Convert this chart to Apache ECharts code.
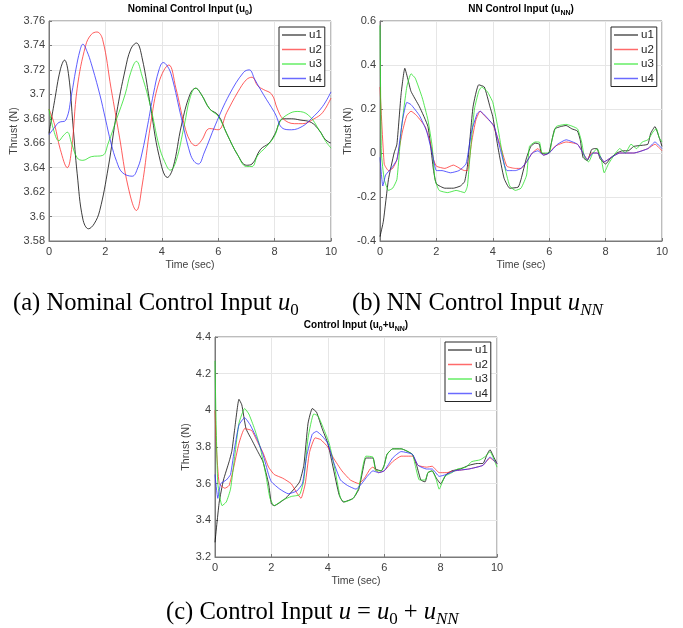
<!DOCTYPE html>
<html><head><meta charset="utf-8">
<script src="https://cdn.jsdelivr.net/npm/echarts@6/dist/echarts.min.js"></script>
<style>html,body{margin:0;padding:0;background:#fff}#c{width:683px;height:628px}</style>
</head><body><div id="c"></div>
<script>
// ---------- DATA (time sec, thrust N) ----------
const seriesNames = ['u1','u2','u3','u4'];
const xTicks = [0,2,4,6,8,10];

// (a) Nominal control input u0
const a_u1 = [[0,3.668],[0.2,3.695],[0.4,3.72],[0.55,3.728],[0.7,3.715],[0.85,3.675],[1.0,3.635],[1.2,3.598],[1.4,3.59],[1.6,3.594],[1.8,3.605],[2.1,3.64],[2.4,3.685],[2.7,3.72],[2.9,3.737],[3.1,3.742],[3.3,3.73],[3.6,3.69],[3.9,3.65],[4.2,3.632],[4.4,3.64],[4.7,3.675],[5.0,3.7],[5.2,3.705],[5.4,3.7],[5.7,3.688],[6.0,3.683],[6.3,3.668],[6.7,3.65],[7.0,3.642],[7.2,3.643],[7.5,3.655],[7.8,3.66],[8.0,3.667],[8.3,3.68],[8.6,3.68],[8.9,3.679],[9.3,3.677],[9.6,3.67],[9.8,3.663],[10,3.66]];
const a_u2 = [[0,3.688],[0.2,3.675],[0.4,3.655],[0.65,3.64],[0.8,3.655],[1.0,3.705],[1.3,3.74],[1.5,3.749],[1.7,3.751],[1.9,3.745],[2.2,3.705],[2.5,3.665],[2.8,3.625],[3.1,3.605],[3.3,3.625],[3.6,3.675],[3.9,3.71],[4.25,3.724],[4.5,3.705],[4.8,3.675],[5.0,3.662],[5.2,3.658],[5.4,3.662],[5.7,3.672],[6.0,3.671],[6.3,3.685],[6.7,3.702],[7.0,3.712],[7.2,3.714],[7.4,3.707],[7.6,3.704],[7.9,3.7],[8.1,3.688],[8.3,3.68],[8.7,3.676],[9.0,3.676],[9.4,3.68],[9.7,3.685],[10,3.697]];
const a_u3 = [[0,3.688],[0.15,3.672],[0.35,3.662],[0.5,3.666],[0.65,3.669],[0.8,3.66],[1.0,3.648],[1.2,3.646],[1.5,3.649],[1.9,3.65],[2.1,3.66],[2.4,3.68],[2.7,3.7],[2.9,3.718],[3.1,3.727],[3.3,3.715],[3.6,3.69],[3.9,3.658],[4.1,3.645],[4.3,3.638],[4.5,3.645],[4.8,3.675],[5.0,3.697],[5.2,3.705],[5.4,3.7],[5.7,3.688],[6.0,3.682],[6.3,3.668],[6.7,3.65],[7.0,3.641],[7.2,3.641],[7.4,3.65],[7.7,3.657],[8.0,3.666],[8.2,3.678],[8.5,3.684],[8.8,3.686],[9.2,3.683],[9.6,3.67],[9.8,3.662],[10,3.656]];
const a_u4 = [[0,3.667],[0.2,3.673],[0.35,3.677],[0.6,3.679],[0.8,3.7],[0.95,3.72],[1.1,3.736],[1.2,3.741],[1.35,3.735],[1.5,3.725],[1.8,3.7],[2.0,3.68],[2.2,3.66],[2.4,3.645],[2.6,3.636],[2.95,3.633],[3.15,3.64],[3.3,3.652],[3.5,3.675],[3.7,3.7],[3.9,3.72],[4.05,3.726],[4.2,3.723],[4.35,3.715],[4.7,3.68],[5.0,3.652],[5.15,3.645],[5.3,3.643],[5.5,3.652],[5.9,3.675],[6.4,3.7],[6.9,3.718],[7.1,3.72],[7.3,3.712],[7.6,3.7],[8.0,3.685],[8.3,3.672],[8.6,3.671],[9.0,3.674],[9.3,3.68],[9.7,3.69],[10,3.702]];

// (b) NN control input uNN
const b_u1 = [[0,-0.38],[0.12,-0.31],[0.3,-0.12],[0.5,0.0],[0.6,0.04],[0.75,0.27],[0.88,0.385],[1.0,0.33],[1.1,0.28],[1.4,0.21],[1.7,0.12],[1.9,-0.08],[2.0,-0.14],[2.3,-0.16],[2.6,-0.16],[2.85,-0.15],[3.0,-0.13],[3.1,-0.06],[3.3,0.21],[3.5,0.31],[3.7,0.3],[3.9,0.21],[4.0,0.165],[4.2,0.013],[4.4,-0.115],[4.6,-0.16],[4.9,-0.155],[5.0,-0.12],[5.2,-0.02],[5.35,0.03],[5.5,0.045],[5.65,0.04],[5.72,0.0],[5.9,-0.005],[6.0,0.005],[6.1,0.06],[6.2,0.11],[6.4,0.12],[6.6,0.125],[6.8,0.11],[7.0,0.1],[7.1,0.06],[7.2,-0.02],[7.35,-0.035],[7.5,0.015],[7.6,0.02],[7.7,0.02],[7.8,-0.025],[8.0,-0.05],[8.2,-0.02],[8.4,0.0],[8.6,0.01],[8.8,0.01],[9.0,0.03],[9.3,0.035],[9.5,0.04],[9.6,0.09],[9.75,0.12],[9.9,0.07],[10,0.03]];
const b_u2 = [[0,0.3],[0.15,-0.05],[0.3,-0.08],[0.45,-0.07],[0.6,-0.03],[0.8,0.1],[0.95,0.17],[1.1,0.19],[1.3,0.17],[1.6,0.12],[1.8,0.04],[1.9,-0.03],[2.0,-0.06],[2.3,-0.07],[2.6,-0.055],[3.0,-0.08],[3.1,-0.08],[3.25,0.05],[3.4,0.15],[3.55,0.19],[3.7,0.17],[4.0,0.13],[4.3,0.02],[4.5,-0.06],[4.8,-0.07],[5.0,-0.07],[5.2,-0.04],[5.4,0.0],[5.6,0.02],[5.8,-0.01],[6.0,0.0],[6.2,0.03],[6.6,0.05],[7.0,0.04],[7.2,0.0],[7.35,-0.03],[7.5,0.0],[7.7,0.0],[7.95,-0.04],[8.2,-0.02],[8.5,0.0],[9.0,0.0],[9.5,0.02],[9.75,0.04],[10,0.01]];
const b_u3 = [[0,0.58],[0.05,0.0],[0.15,-0.12],[0.3,-0.17],[0.45,-0.16],[0.6,-0.12],[0.75,0.1],[0.95,0.3],[1.1,0.36],[1.25,0.34],[1.5,0.25],[1.7,0.15],[1.85,0.03],[1.95,-0.12],[2.1,-0.17],[2.4,-0.18],[2.7,-0.17],[3.0,-0.18],[3.1,-0.15],[3.2,0.0],[3.35,0.2],[3.5,0.28],[3.6,0.3],[3.8,0.28],[4.0,0.23],[4.2,0.1],[4.4,-0.05],[4.6,-0.15],[4.8,-0.17],[5.0,-0.16],[5.2,-0.1],[5.3,0.03],[5.5,0.05],[5.65,0.05],[5.75,0.0],[6.0,0.0],[6.1,0.06],[6.25,0.12],[6.6,0.13],[7.0,0.11],[7.15,0.05],[7.25,-0.02],[7.4,-0.04],[7.55,0.0],[7.7,0.02],[7.85,-0.03],[7.95,-0.09],[8.1,-0.05],[8.3,-0.01],[8.5,0.02],[8.7,0.0],[8.9,0.04],[9.1,0.02],[9.3,0.05],[9.5,0.06],[9.7,0.1],[9.8,0.11],[9.9,0.07],[10,0.05]];
const b_u4 = [[0,-0.02],[0.1,-0.15],[0.2,-0.1],[0.4,-0.07],[0.6,-0.03],[0.8,0.15],[0.95,0.23],[1.1,0.22],[1.4,0.17],[1.65,0.1],[1.85,0.0],[2.0,-0.08],[2.2,-0.08],[2.5,-0.09],[2.8,-0.08],[3.05,-0.05],[3.25,0.1],[3.45,0.18],[3.55,0.19],[3.8,0.16],[4.05,0.12],[4.3,0.0],[4.5,-0.08],[4.8,-0.08],[5.0,-0.07],[5.2,-0.04],[5.4,0.0],[5.6,0.01],[5.8,-0.01],[6.0,0.0],[6.3,0.04],[6.6,0.06],[7.0,0.04],[7.2,0.0],[7.35,-0.03],[7.55,0.0],[7.7,0.0],[7.95,-0.04],[8.2,-0.02],[8.5,0.0],[9.0,0.0],[9.5,0.02],[9.75,0.05],[10,0.02]];

// (c) Control input u0 + uNN
const c_u1 = [[0,3.28],[0.15,3.5],[0.3,3.62],[0.5,3.72],[0.6,3.78],[0.7,3.9],[0.85,4.06],[0.95,4.03],[1.1,3.9],[1.3,3.84],[1.5,3.78],[1.7,3.72],[1.9,3.6],[2.0,3.49],[2.1,3.48],[2.5,3.52],[2.8,3.57],[3.0,3.61],[3.15,3.7],[3.3,3.93],[3.45,4.01],[3.6,3.99],[3.8,3.9],[4.0,3.82],[4.2,3.68],[4.4,3.54],[4.55,3.5],[4.9,3.52],[5.1,3.57],[5.25,3.68],[5.35,3.74],[5.6,3.74],[5.7,3.68],[5.9,3.67],[6.0,3.7],[6.1,3.76],[6.3,3.79],[6.6,3.79],[7.0,3.76],[7.15,3.7],[7.3,3.62],[7.45,3.61],[7.55,3.66],[7.7,3.67],[7.85,3.63],[8.0,3.6],[8.2,3.65],[8.4,3.67],[8.7,3.68],[9.0,3.7],[9.3,3.71],[9.5,3.71],[9.65,3.76],[9.75,3.785],[9.9,3.74],[10,3.71]];
const c_u2 = [[0,4.0],[0.05,3.8],[0.15,3.6],[0.35,3.575],[0.5,3.59],[0.65,3.68],[0.85,3.82],[1.05,3.9],[1.3,3.89],[1.5,3.83],[1.7,3.77],[1.9,3.69],[2.1,3.65],[2.4,3.63],[2.7,3.6],[2.9,3.55],[3.05,3.52],[3.2,3.6],[3.35,3.77],[3.55,3.85],[3.75,3.84],[4.0,3.8],[4.2,3.74],[4.5,3.67],[4.8,3.62],[5.1,3.6],[5.3,3.63],[5.5,3.68],[5.6,3.69],[5.8,3.66],[6.0,3.67],[6.3,3.72],[6.6,3.75],[7.0,3.75],[7.2,3.7],[7.5,3.69],[7.7,3.695],[7.95,3.66],[8.2,3.66],[8.5,3.67],[9.0,3.68],[9.5,3.7],[9.75,3.74],[10,3.71]];
const c_u3 = [[0,4.27],[0.03,4.0],[0.1,3.6],[0.25,3.48],[0.4,3.5],[0.55,3.57],[0.7,3.75],[0.85,3.93],[1.05,4.01],[1.2,3.98],[1.4,3.9],[1.6,3.8],[1.8,3.65],[1.95,3.52],[2.1,3.48],[2.4,3.51],[2.7,3.53],[3.0,3.54],[3.15,3.62],[3.3,3.85],[3.5,3.98],[3.65,3.97],[3.85,3.9],[4.05,3.82],[4.25,3.68],[4.45,3.52],[4.6,3.5],[4.9,3.52],[5.1,3.58],[5.25,3.7],[5.35,3.75],[5.6,3.745],[5.7,3.67],[5.9,3.67],[6.0,3.7],[6.1,3.76],[6.3,3.79],[6.6,3.79],[7.0,3.76],[7.1,3.7],[7.25,3.62],[7.45,3.62],[7.55,3.66],[7.7,3.67],[7.85,3.62],[7.95,3.57],[8.15,3.64],[8.4,3.66],[8.6,3.68],[8.9,3.69],[9.1,3.72],[9.4,3.73],[9.6,3.75],[9.75,3.775],[9.9,3.73],[10,3.69]];
const c_u4 = [[0,3.65],[0.1,3.52],[0.2,3.6],[0.4,3.62],[0.55,3.65],[0.7,3.8],[0.85,3.92],[1.05,3.96],[1.25,3.92],[1.5,3.84],[1.7,3.76],[1.9,3.65],[2.0,3.61],[2.3,3.57],[2.6,3.545],[2.9,3.56],[3.1,3.6],[3.25,3.75],[3.45,3.87],[3.6,3.885],[3.8,3.86],[4.0,3.82],[4.2,3.72],[4.45,3.62],[4.7,3.59],[5.0,3.57],[5.2,3.6],[5.4,3.64],[5.6,3.67],[5.8,3.66],[6.0,3.67],[6.3,3.74],[6.6,3.775],[7.0,3.76],[7.2,3.7],[7.5,3.68],[7.7,3.68],[7.95,3.64],[8.2,3.65],[8.5,3.67],[9.0,3.68],[9.5,3.7],[9.75,3.745],[10,3.71]];

// ---------- CHART ----------
const colors = ['#000000','#ff2a2a','#22e022','#2a2aff'];
const legendColors = ['#555555','#ff6a6a','#66ee66','#6a6aff'];
const FONT = 'Liberation Sans, Arial, sans-serif';
const SERIF = 'Liberation Serif, Times New Roman, serif';
const grids = [
  {left:49, top:21, width:282, height:220},
  {left:380, top:21, width:282, height:220},
  {left:215, top:337, width:282, height:220}
];
const yCfg = [
  {min:3.58, max:3.76, interval:0.02, gap:26},
  {min:-0.4, max:0.6, interval:0.2, gap:24},
  {min:3.2, max:4.4, interval:0.2, gap:21}
];
const dataSets = [[a_u1,a_u2,a_u3,a_u4],[b_u1,b_u2,b_u3,b_u4],[c_u1,c_u2,c_u3,c_u4]];
const legendPos = [{left:279,top:27},{left:611,top:27},{left:445,top:342}];

const chart = echarts.init(document.getElementById('c'), null, {renderer:'canvas'});
const axisCommon = {
  axisLine:{show:true, onZero:false, lineStyle:{color:'#7a7a7a', width:1}},
  axisTick:{show:true, inside:true, length:3, lineStyle:{color:'#7a7a7a'}},
  splitLine:{show:true, lineStyle:{color:'#e6e6e6', width:1}},
  axisLabel:{color:'#404040', fontFamily:FONT, fontSize:11},
  nameTextStyle:{color:'#404040', fontFamily:FONT, fontSize:10.5}
};
const fmt = v => String(+(+v).toFixed(2));
const capStyle = {fontFamily:SERIF, fontSize:24.6, fontWeight:'normal', color:'#000', lineHeight:30,
  rich:{
    i:{fontFamily:SERIF, fontSize:24.6, fontStyle:'italic', color:'#000', lineHeight:30},
    s:{fontFamily:SERIF, fontSize:17, color:'#000', lineHeight:30, verticalAlign:'bottom'},
    si:{fontFamily:SERIF, fontSize:17, fontStyle:'italic', color:'#000', lineHeight:30, verticalAlign:'bottom'},
    op:{fontFamily:SERIF, fontSize:24.6, color:'#000', lineHeight:30, padding:[0,6,0,6]}
  }};
const option = {
  animation:false,
  backgroundColor:'#fff',
  grid: grids.map(g => Object.assign({show:true, borderColor:'#7a7a7a', borderWidth:1, containLabel:false}, g)),
  xAxis: grids.map((g,i) => Object.assign({}, axisCommon, {
    type:'value', gridIndex:i, min:0, max:10, interval:2,
    name:'Time (sec)', nameLocation:'middle', nameGap:19,
    axisLabel:Object.assign({}, axisCommon.axisLabel, {margin:5, formatter:fmt})
  })),
  yAxis: yCfg.map((c,i) => Object.assign({}, axisCommon, {
    type:'value', gridIndex:i, min:c.min, max:c.max, interval:c.interval,
    name:'Thrust (N)', nameLocation:'middle', nameGap:c.gap,
    axisLabel:Object.assign({}, axisCommon.axisLabel, {margin:4, formatter:fmt})
  })),
  legend: legendPos.map(p => ({
    data:seriesNames.map((n,k) => ({name:n, icon:'rect', itemStyle:{color:legendColors[k], borderWidth:0, opacity:1}})),
    orient:'vertical', left:p.left, top:p.top,
    itemWidth:24, itemHeight:1.5, itemGap:2.5,
    padding:[2,3,2,3], borderColor:'#262626', borderWidth:1, backgroundColor:'#fff',
    selectedMode:false,
    textStyle:{color:'#222', fontFamily:FONT, fontSize:11.5, padding:[0,0,0,-2]}
  })),
  title: [
    {text:'Nominal Control Input (u{s|0})', left:190, top:1, textAlign:'center'},
    {text:'NN Control Input (u{s|NN})', left:521, top:1, textAlign:'center'},
    {text:'Control Input (u{s|0}+u{s|NN})', left:356, top:317, textAlign:'center'}
  ].map(t => Object.assign(t, {padding:0, textStyle:{fontFamily:FONT, fontSize:10, fontWeight:'bold', color:'#000', lineHeight:16,
      rich:{s:{fontFamily:FONT, fontSize:7, fontWeight:'bold', color:'#000', lineHeight:16, verticalAlign:'bottom'}}}}))
    .concat([
      {text:'(a) Nominal Control Input {i|u}{s|0}', left:13, top:289},
      {text:'(b) NN Control Input {i|u}{si|NN}', left:352, top:289},
      {text:'(c) Control Input {i|u}{op|=}{i|u}{s|0}{op|+}{i|u}{si|NN}', left:166, top:598}
    ].map(t => Object.assign(t, {padding:0, textStyle:capStyle}))),
  series: []
};
dataSets.forEach((set, gi) => {
  set.forEach((d, k) => {
    option.series.push({
      type:'line', name:seriesNames[k], xAxisIndex:gi, yAxisIndex:gi,
      data:d, showSymbol:false, symbol:'none', smooth:gi===0 ? 0.4 : 0.15,
      lineStyle:{color:colors[k], width:0.9, opacity:0.85}, itemStyle:{color:colors[k]},
      z: 2 + k
    });
  });
});
chart.setOption(option);
</script></body></html>
